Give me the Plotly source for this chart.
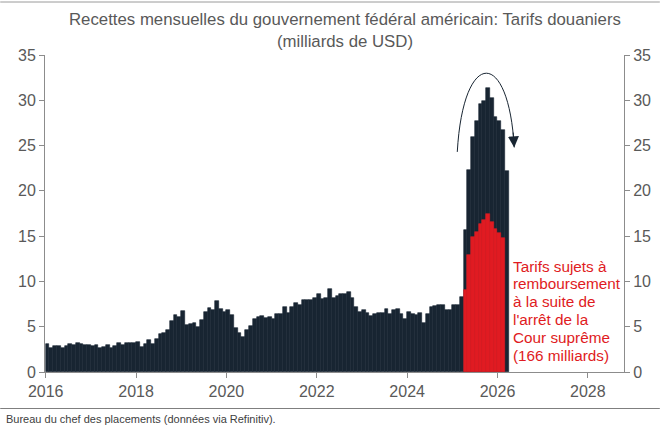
import plotly.graph_objects as go

# ---------------- data ----------------
start_year = 2016
# monthly customs receipts, Jan 2016 .. Mar 2026 (billions USD)
receipts_2016 = [3.1, 2.7, 2.9, 2.9, 2.6, 2.9, 3.1, 3.0, 3.2, 3.1, 3.0, 3.0]
receipts_2017 = [2.9, 3.0, 2.6, 2.8, 3.0, 2.6, 2.9, 3.2, 3.0, 3.2, 3.2, 3.2]
receipts_2018 = [3.3, 2.8, 3.1, 3.5, 3.1, 3.6, 4.2, 4.3, 4.6, 5.6, 6.3, 6.1]
receipts_2019 = [6.7, 5.2, 5.3, 5.4, 5.0, 5.7, 6.6, 7.1, 6.9, 7.8, 7.0, 6.6]
receipts_2020 = [6.9, 6.3, 4.9, 4.3, 3.9, 4.6, 5.1, 5.9, 6.1, 6.2, 6.0, 6.1]
receipts_2021 = [5.9, 6.4, 6.4, 7.2, 6.5, 7.2, 7.6, 7.4, 7.9, 7.9, 7.9, 8.2]
receipts_2022 = [8.6, 8.1, 8.2, 9.2, 8.2, 8.4, 8.6, 8.6, 8.8, 8.2, 7.2, 6.6]
receipts_2023 = [6.9, 6.5, 6.2, 6.4, 6.5, 6.5, 7.0, 6.4, 6.8, 7.0, 6.4, 5.8]
receipts_2024 = [6.6, 6.4, 6.3, 6.5, 5.4, 6.4, 7.2, 7.3, 7.4, 7.4, 6.9, 6.9]
receipts_2025 = [7.4, 7.4, 8.3, 15.7, 22.3, 26.0, 27.7, 29.6, 29.9, 31.4, 30.3, 28.1]
receipts_2026 = [27.7, 26.7, 22.2]

# tariffs subject to refund, Apr 2025 .. Feb 2026
refund_start = (2025, 4)
refund_values = [9.0, 12.9, 14.9, 15.5, 16.3, 16.8, 17.4, 16.6, 15.8, 15.4, 14.8]

x_ticks = [2016, 2018, 2020, 2022, 2024, 2026, 2028]
y_ticks = [0, 5, 10, 15, 20, 25, 30, 35]

title_lines = ["Recettes mensuelles du gouvernement fédéral américain: Tarifs douaniers",
               "(milliards de USD)"]
note_lines = ["Tarifs sujets à", "remboursement", "à la suite de", "l'arrêt de la",
              "Cour suprême", "(166 milliards)"]
source_text = "Bureau du chef des placements (données via Refinitiv)."

# ---------------- build ----------------
receipts = (receipts_2016 + receipts_2017 + receipts_2018 + receipts_2019 + receipts_2020 +
            receipts_2021 + receipts_2022 + receipts_2023 + receipts_2024 + receipts_2025 +
            receipts_2026)
x_all = [start_year + (i + 0.5) / 12 for i in range(len(receipts))]
r0 = (refund_start[0] - start_year) * 12 + refund_start[1] - 1
x_ref = [start_year + (r0 + i + 0.5) / 12 for i in range(len(refund_values))]

DARK = "#182532"
RED = "#e01b22"
GREY = "#595959"
AX = "#8c8c8c"
FONT = "Liberation Sans, Arial, sans-serif"

fig = go.Figure()
fig.add_trace(go.Bar(x=x_all, y=receipts, width=1 / 12, marker_color=DARK,
                     marker_line=dict(width=0.6, color=DARK), opacity=1,
                     showlegend=False, hoverinfo="skip"))
fig.add_trace(go.Bar(x=x_ref, y=refund_values, width=1 / 12, marker_color=RED,
                     marker_line=dict(width=0.6, color=RED), opacity=1,
                     showlegend=False, hoverinfo="skip"))
fig.add_trace(go.Scatter(x=[x_all[0]], y=[0], yaxis="y2", mode="markers",
                         marker=dict(opacity=0), showlegend=False, hoverinfo="skip"))

W, H = 663, 425
L, R, T, B = 45, 36, 55, 53
ph = H - T - B


def py(pix):  # pixel row -> paper y
    return (H - B - pix) / ph


def px(pix):  # pixel col -> paper x
    return (pix - L) / (W - L - R)


axis_common = dict(showline=True, linecolor=AX, linewidth=1, ticks="outside", ticklen=5,
                   tickcolor=AX, showgrid=False, zeroline=False,
                   tickfont=dict(size=16, color=GREY, family=FONT))

fig.update_layout(
    width=W, height=H, margin=dict(l=L, r=R, t=T, b=B),
    paper_bgcolor="white", plot_bgcolor="white",
    barmode="overlay", bargap=0,
    font=dict(family=FONT, color=GREY),
    xaxis=dict(range=[2015.985, 2028.8], tickvals=x_ticks,
               ticktext=[str(v) for v in x_ticks], **axis_common),
    yaxis=dict(range=[0, 35], tickvals=y_ticks, **axis_common),
    yaxis2=dict(range=[0, 35], tickvals=y_ticks, overlaying="y", side="right", **axis_common),
)

annotations = []
annotations.append(dict(text="<br>".join(title_lines), xref="paper", yref="paper",
                        x=px(347), y=py(30.5), xanchor="center", yanchor="middle",
                        showarrow=False, font=dict(size=16.8, color=GREY, family=FONT)))
for i, line in enumerate(note_lines):
    annotations.append(dict(text=line, xref="paper", yref="paper", x=px(513),
                            y=py(266 + i * 17.8), xanchor="left", yanchor="middle",
                            showarrow=False, font=dict(size=15.3, color=RED, family=FONT)))
annotations.append(dict(text=source_text, xref="paper", yref="paper", x=px(4),
                        y=py(418.5), xanchor="left", yanchor="middle", showarrow=False,
                        font=dict(size=11, color="#404040", family=FONT)))
# arrowhead at end of arc
annotations.append(dict(x=2026.37, y=24.8, ax=2026.345, ay=26.6, xref="x", yref="y",
                        axref="x", ayref="y", text="", showarrow=True, arrowhead=2,
                        arrowsize=2.2, arrowwidth=1, arrowcolor=DARK))
fig.update_layout(annotations=annotations)

shapes = [
    dict(type="path", xref="x", yref="y",
         path="M 2025.11,24.3 C 2025.24,35.8 2026.25,35.8 2026.37,24.8",
         line=dict(color=DARK, width=1)),
    dict(type="line", xref="paper", yref="paper", x0=px(0), x1=px(W), y0=py(408.5), y1=py(408.5),
         line=dict(color="#7f7f7f", width=1)),
    dict(type="line", xref="paper", yref="paper", x0=px(0), x1=px(W), y0=py(2), y1=py(2),
         line=dict(color="#9a9a9a", width=1)),
]
fig.update_layout(shapes=shapes)

fig.write_html("out.html", config={"displayModeBar": False})
